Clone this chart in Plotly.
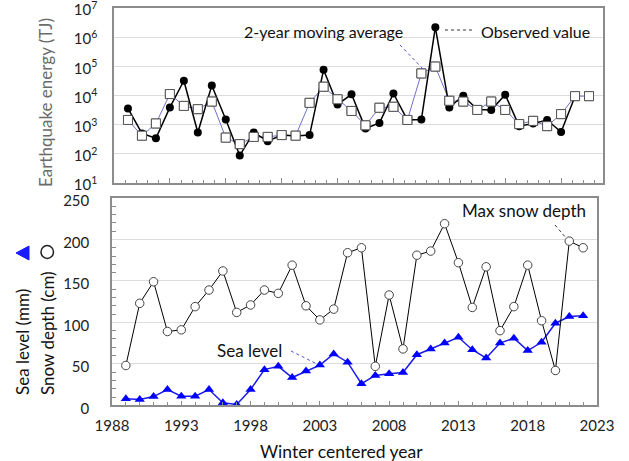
import plotly.graph_objects as go

# ---------------- data ----------------
years_eq = list(range(1989, 2022))
observed = [3600, 500, 340, 3900, 32000, 540, 22000, 1500, 87, 540, 270, 440, 410, 440,
            76000, 4900, 11000, 740, 1150, 11700, 1450, 1500, 2200000, 3900, 9800, 3300,
            3200, 10700, 890, 1100, 1450, 560, 9500]
years_ma = list(range(1989, 2023))
moving_avg = [1450, 420, 1100, 11200, 4400, 3400, 6200, 360, 215, 380, 380, 440, 420, 5600,
              20000, 7400, 2950, 950, 3800, 4100, 1450, 57000, 98000, 6600, 6200, 3200,
              6200, 3200, 1050, 1350, 890, 2300, 9500, 9500]

years_b = list(range(1989, 2023))
snow_depth = [48, 123, 149, 89, 91, 119, 139, 162, 112, 121, 139, 135, 169, 120, 103, 116,
              184, 190, 47, 133, 68, 181, 186, 219, 172, 118, 167, 90, 119, 169, 102, 42,
              198, 190]
sea_level = [8, 7, 10.5, 19, 11, 11, 19, 3, 1, 19, 43, 47, 33.5, 41.5, 48.5, 62, 52, 26,
             36, 38, 39.5, 61, 68, 75, 82, 67, 57, 75, 81, 66, 76, 99, 107, 108]

log_ticks = [10, 100, 1000, 10000, 100000, 1000000, 10000000]
log_labels = ["10<sup>1</sup>", "10<sup>2</sup>", "10<sup>3</sup>", "10<sup>4</sup>",
              "10<sup>5</sup>", "10<sup>6</sup>", "10<sup>7</sup>"]

# ---------------- figure ----------------
W, H = 629, 461
FONT = "Lato"


def px(x, y):
    return x / W, 1 - y / H


fig = go.Figure()

fig.add_trace(go.Scatter(
    x=years_ma, y=moving_avg, mode="lines+markers", xaxis="x", yaxis="y",
    line=dict(color="#6f6fd0", width=1),
    marker=dict(symbol="square", size=9, color="white", line=dict(color="#555555", width=1)),
    name="2-year moving average"))
fig.add_trace(go.Scatter(
    x=years_eq, y=observed, mode="lines+markers", xaxis="x", yaxis="y",
    line=dict(color="black", width=1.5),
    marker=dict(symbol="circle", size=8, color="black"),
    name="Observed value"))
# re-draw moving average markers on top
fig.add_trace(go.Scatter(
    x=years_ma, y=moving_avg, mode="markers", xaxis="x", yaxis="y",
    marker=dict(symbol="square", size=9, color="white", line=dict(color="#555555", width=1)),
    showlegend=False))

fig.add_trace(go.Scatter(
    x=years_b, y=sea_level, mode="lines+markers", xaxis="x2", yaxis="y2",
    line=dict(color="#1a1aee", width=1.5),
    marker=dict(symbol="triangle-up", size=9, color="#0000ff"),
    name="Sea level"))
fig.add_trace(go.Scatter(
    x=years_b, y=snow_depth, mode="lines+markers", xaxis="x2", yaxis="y2",
    line=dict(color="black", width=1),
    marker=dict(symbol="circle", size=8.5, color="white", line=dict(color="#444444", width=1)),
    name="Max snow depth"))

axis_line = "#8c8c8c"
grid = "#dcdcdc"

fig.update_layout(
    width=W, height=H,
    margin=dict(l=0, r=0, t=0, b=0, pad=0),
    paper_bgcolor="white", plot_bgcolor="white",
    showlegend=False,
    font=dict(family=FONT, size=15, color="#222222"),
    xaxis=dict(
        domain=[114 / W, 603 / W], anchor="y", range=[1988, 2023], automargin=False,
        showline=True, linecolor=axis_line, linewidth=1.5, mirror=True,
        showgrid=False, zeroline=False, showticklabels=False,
        ticks="inside", tick0=1988, dtick=4, ticklen=5, tickcolor=axis_line,
        minor=dict(ticks="inside", dtick=0.8, tick0=1988, ticklen=3, tickcolor=axis_line),
    ),
    yaxis=dict(
        domain=[1 - 183 / H, 1 - 8 / H], anchor="x", type="log", range=[1, 7], automargin=False,
        showline=True, linecolor=axis_line, linewidth=1.5, mirror=True,
        showgrid=True, gridcolor=grid, zeroline=False,
        tickmode="array", tickvals=log_ticks, ticktext=log_labels,
        ticks="", ticklabelstandoff=12, ticklabeloverflow="allow", ticklabelshift=2,
        tickfont=dict(size=15, color="#222222"),
    ),
    xaxis2=dict(
        domain=[112 / W, 597 / W], anchor="y2", range=[1988, 2023], automargin=False,
        showline=True, linecolor=axis_line, linewidth=1.5, mirror=True,
        showgrid=False, zeroline=False, ticklabeloverflow="allow",
        tickmode="linear", tick0=1988, dtick=5,
        ticks="inside", ticklen=5, tickcolor=axis_line, ticklabelstandoff=6,
        minor=dict(ticks="inside", dtick=1, tick0=1988, ticklen=4, tickcolor=axis_line),
        tickfont=dict(size=15, color="#222222"),
    ),
    yaxis2=dict(
        domain=[1 - 405.3 / H, 1 - 198 / H], anchor="x2", range=[0, 250], automargin=False,
        showline=True, linecolor=axis_line, linewidth=1.5, mirror=True,
        showgrid=True, gridcolor=grid, zeroline=False, ticklabeloverflow="allow",
        tickmode="linear", tick0=0, dtick=50,
        ticks="", ticklabelstandoff=18, ticklabelshift=3,
        minor=dict(ticks="inside", dtick=10, ticklen=4, tickcolor=axis_line),
        tickfont=dict(size=15, color="#222222"),
    ),
)

annotations = []


def add_text(text, x, y, size=15, color="#111111", angle=0):
    ax, ay = px(x, y)
    annotations.append(dict(text=text, x=ax, y=ay, xref="paper", yref="paper",
                            xanchor="center", yanchor="middle", showarrow=False,
                            textangle=angle, font=dict(family=FONT, size=size, color=color)))


add_text("2-year moving average", 323, 32, 16)
add_text("Observed value", 535, 31, 16)
add_text("Sea level", 249, 350, 17)
add_text("Max snow depth", 524, 210, 17)
add_text("Earthquake energy (TJ)", 45, 103, 17, "#6b6b6b", -90)
add_text("Sea level (mm)", 22, 342, 17, "#111111", -90)
add_text("Snow depth (cm)", 47, 333, 17, "#111111", -90)
add_text("Winter centered year", 341, 451, 17.5, "#111111")
fig.update_layout(annotations=annotations)

shapes = []


def leader(x0, y0, x1, y1, color):
    a0, b0 = px(x0, y0)
    a1, b1 = px(x1, y1)
    shapes.append(dict(type="line", xref="paper", yref="paper", x0=a0, y0=b0, x1=a1, y1=b1,
                       line=dict(color=color, width=1, dash="dot")))


leader(400, 45, 423, 69, "#5050d0")
leader(445, 30, 474, 30, "#333333")
leader(291, 351, 317, 364, "#5050d0")
leader(555, 225, 566, 238, "#333333")

# legend symbols inside the rotated y-axis title (blue triangle, open circle)
p1, p2, p3 = px(16, 253), px(29, 246), px(29, 260)
shapes.append(dict(type="path", xref="paper", yref="paper",
                   path=f"M {p1[0]},{p1[1]} L {p2[0]},{p2[1]} L {p3[0]},{p3[1]} Z",
                   fillcolor="#1a1aff", line=dict(color="#1a1aff", width=1)))
c0, c1 = px(41, 258.5), px(53.5, 245.5)
shapes.append(dict(type="circle", xref="paper", yref="paper",
                   x0=c0[0], y0=c0[1], x1=c1[0], y1=c1[1],
                   line=dict(color="#222222", width=1.5), fillcolor="rgba(0,0,0,0)"))
fig.update_layout(shapes=shapes)

fig.write_html("out.html", config={"displayModeBar": False},
               post_script="document.body.style.margin='0';")
